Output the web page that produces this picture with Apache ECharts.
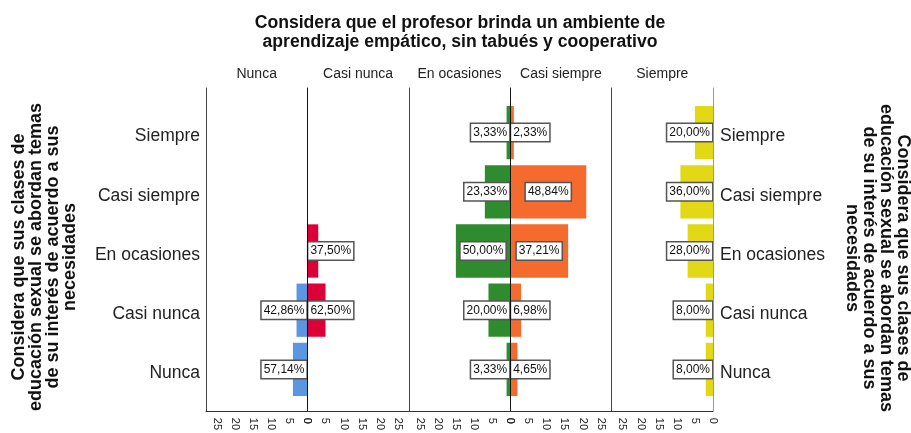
<!DOCTYPE html>
<html>
<head>
<meta charset="utf-8">
<script src="https://cdn.jsdelivr.net/npm/echarts@6/dist/echarts.min.js"></script>
<style>
html, body { margin: 0; padding: 0; background: #fff; }
#main { width: 911px; height: 433px; }
</style>
</head>
<body>
<div id="main"></div>
<script>
// categorias del eje Y (de abajo hacia arriba)
var categories = ['Nunca', 'Casi nunca', 'En ocasiones', 'Casi siempre', 'Siempre'];
// paneles (columnas) del profesor
var panels = ['Nunca', 'Casi nunca', 'En ocasiones', 'Casi siempre', 'Siempre'];
// recuentos por panel, en el orden de categories
var nunca = [4, 3, 0, 0, 0];
var casiNunca = [0, 5, 3, 0, 0];
var enOcasiones = [1, 6, 15, 7, 1];
var casiSiempre = [2, 3, 16, 21, 1];
var siempre = [2, 2, 7, 9, 5];
var xTicks = [0, 5, 10, 15, 20, 25];

var panelData = [nunca, casiNunca, enOcasiones, casiSiempre, siempre];
var colors = ['#5a96e2', '#dc0037', '#2e8b2e', '#f56a2d', '#e2d816'];

var FONT = 'Liberation Sans';
var left0 = 206, panelW = 101.4;
var xMax = 28;

var myChart = echarts.init(document.getElementById('main'));

var grids = [], xAxes = [], yAxes = [], series = [], graphics = [];

// marcos (lineas verticales y eje inferior)
for (var i = 0; i < 5; i++) {
    grids.push({ left: left0 + i * panelW, width: panelW, top: 88, height: 325 });
    xAxes.push({
        gridIndex: i, type: 'value', min: 0, max: xMax, interval: 5,
        inverse: i % 2 === 0,
        axisLine: { show: true, onZero: false, lineStyle: { color: '#333', width: 1 } },
        axisTick: { show: false },
        splitLine: { show: false },
        axisLabel: {
            rotate: -90, fontSize: 11, color: '#222', margin: 7, fontFamily: FONT,
            formatter: function (v) { return xTicks.indexOf(v) >= 0 ? String(v) : ''; }
        },
        z: 5
    });
    yAxes.push({
        gridIndex: i, type: 'value', min: 0, max: 1, position: 'left',
        axisLine: { show: true, onZero: false, lineStyle: { color: i === 1 || i === 3 ? '#111' : '#444', width: 1 } },
        axisTick: { show: false }, axisLabel: { show: false }, splitLine: { show: false },
        z: 5
    });
}
yAxes.push({
    gridIndex: 4, type: 'value', min: 0, max: 1, position: 'right',
    axisLine: { show: true, onZero: false, lineStyle: { color: '#999', width: 1 } },
    axisTick: { show: false }, axisLabel: { show: false }, splitLine: { show: false },
    z: 5
});

// zonas de datos
for (var i = 0; i < 5; i++) {
    var gi = 5 + i;
    grids.push({ left: left0 + i * panelW, width: panelW, top: 103, height: 296 });
    xAxes.push({ gridIndex: gi, type: 'value', min: 0, max: xMax, inverse: i % 2 === 0, show: false });
    yAxes.push({
        gridIndex: gi, type: 'category', data: categories,
        position: i === 4 ? 'right' : 'left',
        axisLine: { show: false }, axisTick: { show: false }, splitLine: { show: false },
        axisLabel: {
            show: i === 0 || i === 4, fontSize: 17.5, color: '#222', fontFamily: FONT,
            margin: i === 4 ? 7 : 6, verticalAlign: 'top', lineHeight: 8
        }
    });

    var vals = panelData[i];
    var total = vals.reduce(function (a, b) { return a + b; }, 0);
    var data = vals.map(function (v) {
        var pos = v >= 13 ? 'inside' : (i % 2 === 0 ? 'insideRight' : 'insideLeft');
        return {
            value: v,
            label: { show: v > 0, position: pos, distance: 1 }
        };
    });
    (function (total) {
        series.push({
            type: 'bar', xAxisIndex: gi, yAxisIndex: 6 + i,
            data: data,
            barCategoryGap: '10%',
            itemStyle: { color: colors[i] },
            label: {
                fontSize: 12, color: '#111', fontFamily: FONT,
                backgroundColor: '#fff', borderColor: '#555', borderWidth: 1.5,
                padding: [3, 2, 2, 2],
                formatter: function (p) {
                    return (p.value / total * 100).toFixed(2).replace('.', ',') + '%';
                }
            }
        });
    })(total);

    graphics.push({
        type: 'text', x: left0 + (i + 0.5) * panelW, y: 74,
        style: { text: panels[i], fontSize: 14, fontFamily: FONT, fill: '#222', align: 'center', verticalAlign: 'middle' }
    });
}

var yTitle = 'Considera que sus clases de\neducación sexual se abordan temas\nde su interés de acuerdo a sus\nnecesidades';
graphics.push({
    type: 'text', x: 460, y: 32.5,
    style: {
        text: 'Considera que el profesor brinda un ambiente de\naprendizaje empático, sin tabués y cooperativo',
        fontSize: 17.6, fontWeight: 'bold', fontFamily: FONT, fill: '#111', lineHeight: 19,
        align: 'center', verticalAlign: 'middle'
    }
});
graphics.push({
    type: 'text', x: 45, y: 257, rotation: Math.PI / 2,
    style: { text: yTitle, fontSize: 18, fontWeight: 'bold', fontFamily: FONT, fill: '#111', lineHeight: 17, align: 'center', verticalAlign: 'middle' }
});
graphics.push({
    type: 'text', x: 877, y: 258, rotation: -Math.PI / 2,
    style: { text: yTitle, fontSize: 18, fontWeight: 'bold', fontFamily: FONT, fill: '#111', lineHeight: 17, align: 'center', verticalAlign: 'middle' }
});

var option = {
    animation: false,
    textStyle: { fontFamily: FONT },
    grid: grids,
    xAxis: xAxes,
    yAxis: yAxes,
    series: series,
    graphic: graphics
};
myChart.setOption(option);
</script>
</body>
</html>
